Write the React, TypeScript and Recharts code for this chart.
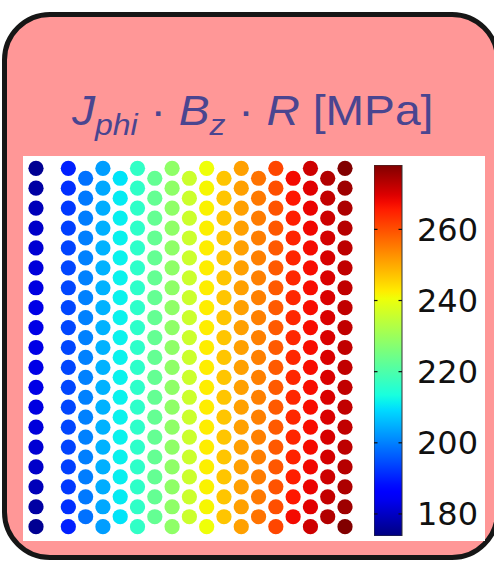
import React from "react";
import { ScatterChart, Scatter, XAxis, YAxis, BarChart, Bar } from "recharts";

// radial position of each column of points (lattice units)
const R_COLS = [0, 1.87, 2.87, 3.87, 4.87, 5.87, 6.87, 7.87, 8.87, 9.87, 10.87, 11.87, 12.87, 13.87, 14.87, 15.87, 16.87, 17.87];

// vertical positions, top -> bottom (full columns have 19 points, staggered ones 18)
const Z_FULL = [9, 8, 7, 6, 5, 4, 3, 2, 1, 0, -1, -2, -3, -4, -5, -6, -7, -8, -9];
const Z_HALF = [8.5, 7.5, 6.5, 5.5, 4.5, 3.5, 2.5, 1.5, 0.5, -0.5, -1.5, -2.5, -3.5, -4.5, -5.5, -6.5, -7.5, -8.5];

// J_phi * B_z * R [MPa] per column, top -> bottom
const COL_01 = [175.5, 177, 179, 180.4, 181.3, 182, 182.6, 183, 183, 183, 183, 183, 182.6, 182, 181.3, 180.4, 179, 177, 175.5];
const COL_02 = [190, 191.6, 192.6, 193.3, 193.7, 194, 194, 194, 194, 194, 194, 194, 194, 194, 193.7, 193.3, 192.6, 191.6, 190];
const COL_03 = [198.4, 199.2, 199.6, 199.8, 200, 200, 200, 200, 200, 200, 200, 200, 200, 200, 199.8, 199.6, 199.2, 198.4];
const COL_04 = [203, 204, 204.5, 204.8, 205, 205, 205, 205, 205, 205, 205, 205, 205, 205, 205, 204.8, 204.5, 204, 203];
const COL_05 = [210.2, 210.9, 211.3, 211.5, 211.6, 211.6, 211.6, 211.6, 211.6, 211.6, 211.6, 211.6, 211.6, 211.6, 211.5, 211.3, 210.9, 210.2];
const COL_06 = [216.5, 216.3, 216.2, 216.1, 216, 216, 216, 216, 216, 216, 216, 216, 216, 216, 216, 216.1, 216.2, 216.3, 216.5];
const COL_07 = [223, 223, 223, 223, 223, 223, 223, 223, 223, 223, 223, 223, 223, 223, 223, 223, 223, 223];
const COL_08 = [228.5, 228.5, 228.5, 228.5, 228.5, 228.5, 228.5, 228.5, 228.5, 228.5, 228.5, 228.5, 228.5, 228.5, 228.5, 228.5, 228.5, 228.5, 228.5];
const COL_09 = [236, 236, 236, 236, 236, 236, 236, 236, 236, 236, 236, 236, 236, 236, 236, 236, 236, 236];
const COL_10 = [240.6, 241.5, 242, 242.3, 242.5, 242.5, 242.5, 242.5, 242.5, 242.5, 242.5, 242.5, 242.5, 242.5, 242.5, 242.3, 242, 241.5, 240.6];
const COL_11 = [247, 247, 247, 247, 247, 247, 247, 247, 247, 247, 247, 247, 247, 247, 247, 247, 247, 247];
const COL_12 = [251, 251, 251, 251, 251, 251, 251, 251, 251, 251, 251, 251, 251, 251, 251, 251, 251, 251, 251];
const COL_13 = [256, 255.4, 255, 254.8, 254.6, 254.6, 254.6, 254.6, 254.6, 254.6, 254.6, 254.6, 254.6, 254.6, 254.8, 255, 255.4, 256];
const COL_14 = [261, 260, 259.5, 259.1, 258.9, 258.8, 258.8, 258.8, 258.8, 258.8, 258.8, 258.8, 258.8, 258.8, 258.9, 259.1, 259.5, 260, 261];
const COL_15 = [267.6, 266.2, 265.4, 264.9, 264.6, 264.4, 264.4, 264.4, 264.4, 264.4, 264.4, 264.4, 264.4, 264.6, 264.9, 265.4, 266.2, 267.6];
const COL_16 = [271, 269.3, 268.4, 267.9, 267.5, 267.3, 267.3, 267.3, 267.3, 267.3, 267.3, 267.3, 267.3, 267.3, 267.5, 267.9, 268.4, 269.3, 271];
const COL_17 = [273.6, 272, 271.1, 270.5, 270.2, 270, 270, 270, 270, 270, 270, 270, 270, 270.2, 270.5, 271.1, 272, 273.6];
const COL_18 = [278, 275.4, 274, 273.2, 272.6, 272.2, 272.2, 272.2, 272.2, 272.2, 272.2, 272.2, 272.2, 272.2, 272.6, 273.2, 274, 275.4, 278];

const COLUMNS = [COL_01, COL_02, COL_03, COL_04, COL_05, COL_06, COL_07, COL_08, COL_09, COL_10, COL_11, COL_12, COL_13, COL_14, COL_15, COL_16, COL_17, COL_18];

const VMIN = 173.8;
const VMAX = 278.1;
const CB_TICKS = [180, 200, 220, 240, 260];

// matplotlib "jet"
const JET_R = [[0, 0], [0.35, 0], [0.66, 1], [0.89, 1], [1, 0.5]];
const JET_G = [[0, 0], [0.125, 0], [0.375, 1], [0.64, 1], [0.91, 0], [1, 0]];
const JET_B = [[0, 0.5], [0.11, 1], [0.34, 1], [0.65, 0], [1, 0]];

const seg = (pts: number[][], t: number) => {
    for (let i = 1; i < pts.length; i++) {
        if (t <= pts[i][0]) {
            const [t0, v0] = pts[i - 1];
            const [t1, v1] = pts[i];
            return v0 + ((t - t0) / (t1 - t0)) * (v1 - v0);
        }
    }
    return pts[pts.length - 1][1];
};

const jet = (t: number) => {
    const c = Math.max(0, Math.min(1, t));
    const h = (v: number) => Math.round(v * 255).toString(16).padStart(2, "0");
    return `#${h(seg(JET_R, c))}${h(seg(JET_G, c))}${h(seg(JET_B, c))}`;
};

const points = COLUMNS.flatMap((col, i) => {
    const zs = col.length === Z_FULL.length ? Z_FULL : Z_HALF;
    return col.map((v, k) => ({
        r: R_COLS[i],
        z: zs[k],
        v,
        color: jet((v - VMIN) / (VMAX - VMIN)),
    }));
});

const cbData = [{ name: "cb", range: [VMIN, VMAX] }];
const gradStops = Array.from({ length: 51 }, (_, i) => i / 50);

const BAR_W = 28;

const renderDot = (props: any) => (
    <circle cx={props.cx} cy={props.cy} r={7.6} fill={props.payload.color} />
);

const renderTick = (props: any) => {
    const { y, payload } = props;
    return (
        <g>
            <line x1={0} x2={3.5} y1={y} y2={y} stroke="#111" strokeWidth={1.2} />
            <line x1={BAR_W - 3.5} x2={BAR_W} y1={y} y2={y} stroke="#111" strokeWidth={1.2} />
            <text
                x={BAR_W + 15}
                y={y}
                dy="0.36em"
                textAnchor="start"
                fontFamily="DejaVu Sans"
                fontSize={32}
                fill="#111"
            >
                {payload.value}
            </text>
        </g>
    );
};

const titleColor = "#4a4590";

export default function App() {
    return (
        <div
            style={{
                position: "absolute",
                left: 0,
                top: 0,
                width: 494,
                height: 562,
                overflow: "hidden",
                background: "#fff",
            }}
        >
            <div
                style={{
                    position: "absolute",
                    left: 2,
                    top: 12,
                    width: 498,
                    height: 548,
                    boxSizing: "border-box",
                    border: "5px solid #161616",
                    borderRadius: 48,
                    background: "#ff9797",
                }}
            />
            <div
                style={{
                    position: "absolute",
                    left: 72,
                    top: 90,
                    fontFamily: "'Liberation Sans', Arial, sans-serif",
                    fontSize: 42,
                    lineHeight: "42px",
                    color: titleColor,
                    whiteSpace: "nowrap",
                    transform: "scaleX(1.1)",
                    transformOrigin: "left center",
                }}
            >
                <i>J</i>
                <i style={{ fontSize: 29, position: "relative", top: 10 }}>phi</i>
                {" · "}
                <i>B</i>
                <i style={{ fontSize: 29, position: "relative", top: 10 }}>z</i>
                {" · "}
                <i>R</i>
                {" [MPa]"}
            </div>
            <div
                style={{
                    position: "absolute",
                    left: 23,
                    top: 156,
                    width: 462,
                    height: 385,
                    background: "#fff",
                }}
            />
            <div style={{ position: "absolute", left: 23, top: 156 }}>
                <ScatterChart width={340} height={385} margin={{ top: 0, right: 0, bottom: 0, left: 0 }}>
                    <XAxis type="number" dataKey="r" domain={[-0.752, 18.91]} hide allowDataOverflow />
                    <YAxis type="number" dataKey="z" domain={[-9.719, 9.618]} hide allowDataOverflow />
                    <Scatter data={points} shape={renderDot} isAnimationActive={false} />
                </ScatterChart>
            </div>
            <div style={{ position: "absolute", left: 374, top: 155 }}>
                <BarChart
                    width={BAR_W + 112}
                    height={391}
                    data={cbData}
                    margin={{ top: 10, right: 0, bottom: 10, left: 0 }}
                    barCategoryGap={0}
                >
                    <defs>
                        <linearGradient id="jetGrad" x1="0" y1="1" x2="0" y2="0">
                            {gradStops.map((t) => (
                                <stop key={t} offset={t} stopColor={jet(t)} />
                            ))}
                        </linearGradient>
                    </defs>
                    <XAxis dataKey="name" hide />
                    <YAxis
                        orientation="right"
                        type="number"
                        domain={[VMIN, VMAX]}
                        ticks={CB_TICKS}
                        axisLine={false}
                        tickLine={false}
                        width={112}
                        tick={renderTick}
                        allowDataOverflow
                    />
                    <Bar dataKey="range" fill="url(#jetGrad)" stroke="#333" strokeWidth={1} isAnimationActive={false} />
                </BarChart>
            </div>
        </div>
    );
}
